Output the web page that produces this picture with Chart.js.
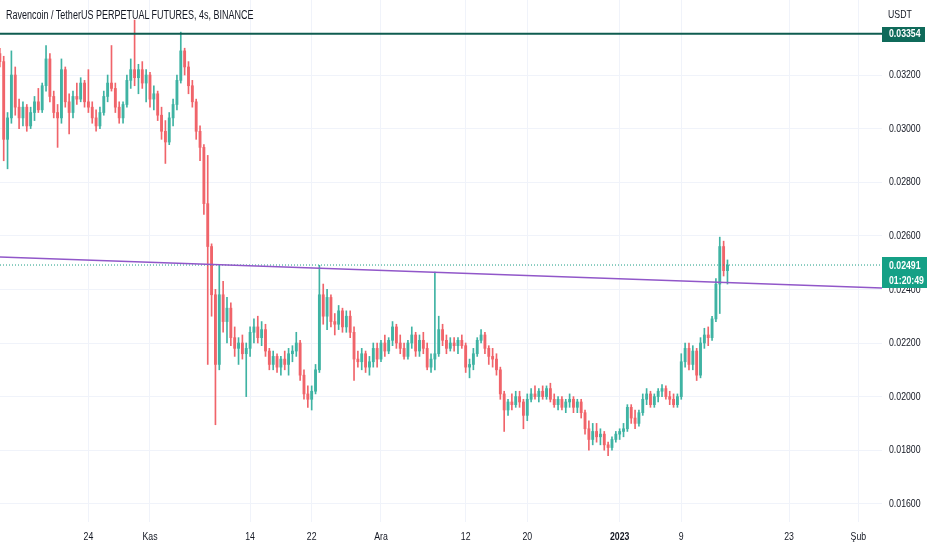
<!DOCTYPE html>
<html><head><meta charset="utf-8">
<script src="https://cdn.jsdelivr.net/npm/chart.js@4.4.1/dist/chart.umd.min.js"></script>
<style>
html,body{margin:0;padding:0;background:#fff;}
#wrap{position:relative;width:932px;height:550px;overflow:hidden;}
#title{position:absolute;left:6px;top:8px;font:12.5px "Liberation Sans",Arial,sans-serif;color:#131722;white-space:nowrap;transform:scaleX(0.72);transform-origin:0 0;}
</style></head><body>
<div id="wrap"><canvas id="c" width="932" height="550"></canvas><div id="title">Ravencoin / TetherUS PERPETUAL FUTURES, 4s, BINANCE</div></div>
<script>
// ---- data (prices in units of 0.00001 USDT), 12h candles ----
const firstCandleDay = -11.5;   // days relative to 24 Oct
const candleStepDays = 0.5;
const opens = [
3280,3250,2960,3040,3200,3080,3040,3080,3010,3060,
3100,3070,3160,3260,3120,3060,3040,3220,3100,3060,
3120,3110,3170,3100,3080,3040,3010,3060,3120,3170,
3150,3080,3040,3090,3180,3220,3190,3220,3170,3200,
3110,3130,3050,2990,2950,3040,3090,3180,3290,3230,
3160,3100,2990,2930,2720,2560,2380,2120,2380,2280,
2330,2220,2180,2200,2160,2180,2240,2260,2220,2250,
2170,2120,2150,2110,2140,2120,2160,2170,2200,2080,
2010,1990,2020,2100,2380,2300,2370,2280,2270,2320,
2260,2300,2240,2140,2130,2160,2110,2130,2180,2140,
2200,2170,2210,2260,2200,2180,2150,2200,2230,2170,
2210,2180,2110,2140,2160,2250,2210,2180,2200,2190,
2210,2190,2110,2120,2160,2210,2230,2180,2150,2140,
2100,2010,1950,1980,1970,2000,1980,1930,1990,2010,
2000,2020,2000,2030,1990,1970,1990,1960,1980,1990,
1960,1980,1940,1880,1840,1870,1850,1860,1820,1810,
1840,1860,1870,1880,1960,1920,1900,1940,1990,2010,
1970,2000,2020,2030,2000,1990,1970,2000,2130,2180,
2120,2170,2080,2200,2230,2220,2290,2420,2560,2470];
const highs = [
3300,3270,3060,3290,3230,3110,3100,3090,3080,3120,
3150,3170,3310,3280,3140,3090,3260,3230,3130,3140,
3170,3190,3180,3220,3100,3070,3080,3140,3200,3310,
3170,3100,3100,3200,3260,3405,3240,3250,3220,3210,
3160,3140,3080,3030,3060,3110,3200,3360,3300,3250,
3180,3110,3010,2940,2900,2570,2400,2490,2430,2370,
2350,2260,2220,2230,2200,2260,2290,2300,2280,2270,
2180,2170,2160,2150,2170,2180,2190,2240,2210,2100,
2040,2040,2120,2490,2420,2400,2380,2310,2340,2330,
2320,2320,2260,2170,2180,2170,2150,2200,2200,2210,
2230,2220,2280,2270,2230,2200,2210,2260,2240,2230,
2240,2200,2160,2465,2300,2270,2230,2220,2220,2220,
2230,2200,2140,2180,2220,2250,2240,2190,2180,2160,
2110,2020,1990,2010,2020,2020,1990,2010,2030,2040,
2030,2040,2040,2050,2010,2000,2000,1990,2010,2000,
1990,1990,1950,1910,1900,1900,1880,1870,1830,1850,
1870,1880,1900,1970,1970,1950,1950,2010,2030,2020,
2010,2030,2045,2040,2020,2010,2010,2160,2200,2200,
2190,2180,2220,2255,2260,2300,2440,2595,2580,2510];
const lows = [
3230,2880,2850,3020,3050,3000,3010,2990,3000,3030,
3060,3060,3140,3100,3040,2930,3020,3080,2980,3040,
3090,3100,3080,3060,3020,2990,3000,3050,3100,3140,
3060,3020,3020,3080,3150,3160,3130,3150,3100,3080,
3070,3030,2960,2870,2940,3010,3070,3170,3200,3130,
3080,2960,2880,2680,2120,2300,1895,2100,2240,2200,
2190,2150,2120,2140,2000,2150,2200,2200,2190,2150,
2100,2100,2090,2080,2100,2080,2130,2150,2060,1990,
1960,1950,2010,2090,2270,2250,2260,2230,2250,2240,
2240,2220,2060,2110,2100,2090,2080,2110,2110,2130,
2150,2160,2190,2180,2160,2140,2140,2180,2150,2150,
2160,2100,2090,2100,2150,2190,2160,2170,2170,2160,
2180,2090,2070,2100,2150,2200,2160,2120,2110,2080,
1990,1870,1930,1950,1960,1960,1880,1910,1980,1990,
1980,1990,1990,1980,1960,1950,1950,1940,1960,1940,
1940,1920,1860,1800,1820,1830,1820,1800,1780,1800,
1830,1840,1850,1870,1900,1880,1890,1930,1970,1960,
1960,1980,2000,1990,1970,1960,1960,1990,2110,2100,
2100,2060,2070,2180,2190,2210,2280,2310,2450,2420];
const closes = [
3250,2960,3040,3200,3080,3040,3080,3010,3060,3100,
3070,3160,3260,3120,3060,3040,3220,3100,3060,3120,
3110,3170,3100,3080,3040,3010,3060,3120,3170,3150,
3080,3040,3090,3180,3220,3190,3220,3170,3200,3110,
3130,3050,2990,2950,3040,3090,3180,3290,3230,3160,
3100,2990,2930,2720,2560,2380,2120,2380,2280,2330,
2220,2180,2200,2160,2180,2240,2260,2220,2250,2170,
2120,2150,2110,2140,2120,2160,2170,2200,2080,2010,
1990,2020,2100,2380,2300,2370,2280,2270,2320,2260,
2300,2240,2140,2130,2160,2110,2130,2180,2140,2200,
2170,2210,2260,2200,2180,2150,2200,2230,2170,2210,
2180,2110,2140,2160,2250,2210,2180,2200,2190,2210,
2190,2110,2120,2160,2210,2230,2180,2150,2140,2100,
2010,1950,1980,1970,2000,1980,1930,1990,2010,2000,
2020,2000,2030,1990,1970,1990,1960,1980,1990,1960,
1980,1940,1880,1840,1870,1850,1860,1820,1810,1840,
1860,1870,1880,1960,1920,1900,1940,1990,2010,1970,
2000,2020,2030,2000,1990,1970,2000,2130,2180,2120,
2170,2080,2200,2230,2220,2290,2420,2560,2470,2491];
const PRICE_UNIT = 100000;

const xTickDays   = [0, 8, 21, 29, 38, 49, 57, 69, 77, 91, 100];
const xTickLabels = ['24','Kas','14','22','Ara','12','20','2023','9','23','Şub'];
const yTickValues = [0.016,0.018,0.020,0.022,0.024,0.026,0.028,0.030,0.032];

const resistanceLevel = 0.03354;
const lastPrice = 0.02491;
const countdown = '01:20:49';
const trendStartDay = -11.48, trendStartPrice = 0.02521;
const trendEndDay = 103.07,  trendEndPrice = 0.02405;

const X_MIN = -11.48, X_MAX = 103.07;
const Y_MIN = 0.015321, Y_MAX = 0.034799;

// ---- styling ----
const FONT = '"Liberation Sans",Arial,sans-serif';
const SX = 0.76;   // horizontal condensing of axis text
const UP = '#3fb3a3', DOWN = '#f0646a';
const TEXT = '#131722', GRID = '#f0f3fa';

const wickData = [], bodyData = [], colors = [];
for (let i = 0; i < closes.length; i++) {
  const x = firstCandleDay + i * candleStepDays;
  wickData.push({x, y: [lows[i] / PRICE_UNIT, highs[i] / PRICE_UNIT]});
  bodyData.push({x, y: [opens[i] / PRICE_UNIT, closes[i] / PRICE_UNIT]});
  colors.push(closes[i] >= opens[i] ? UP : DOWN);
}

function narrowText(ctx, text, x, y, align) {
  ctx.save();
  ctx.translate(x, y);
  ctx.scale(SX, 1);
  ctx.textAlign = align;
  ctx.textBaseline = 'middle';
  ctx.fillText(text, 0, 0);
  ctx.restore();
}

const axisTextPlugin = {
  id: 'axisText',
  afterDraw(chart) {
    const ctx = chart.ctx, xs = chart.scales.x, ys = chart.scales.y, area = chart.chartArea;
    ctx.save();
    ctx.fillStyle = TEXT;
    // x tick labels from the library's x scale ticks
    xs.ticks.forEach((t, i) => {
      const lbl = xTickLabels[i];
      ctx.font = (lbl === '2023' ? 'bold ' : '') + '11.5px ' + FONT;
      narrowText(ctx, lbl, xs.getPixelForValue(t.value), area.bottom + 15, 'center');
    });
    // y tick labels from the library's y scale ticks
    ctx.font = '11.5px ' + FONT;
    ys.ticks.forEach(t => {
      narrowText(ctx, Number(t.value).toFixed(5), area.right + 7, ys.getPixelForValue(t.value), 'left');
    });
    narrowText(ctx, 'USDT', area.right + 6, 15, 'left');
    // resistance badge
    let y = ys.getPixelForValue(resistanceLevel);
    ctx.fillStyle = '#0f6a5a';
    ctx.fillRect(area.right, Math.round(y) - 7, 43, 15);
    ctx.fillStyle = '#ffffff';
    ctx.font = 'bold 11.5px ' + FONT;
    narrowText(ctx, resistanceLevel.toFixed(5), area.right + 7, y + 0.5, 'left');
    // last price badge
    y = ys.getPixelForValue(lastPrice);
    ctx.fillStyle = '#15a086';
    ctx.fillRect(area.right, Math.round(y) - 8, 45, 31);
    ctx.fillStyle = '#ffffff';
    narrowText(ctx, lastPrice.toFixed(5), area.right + 7, y + 0.5, 'left');
    narrowText(ctx, countdown, area.right + 7, y + 16, 'left');
    ctx.restore();
  }
};

new Chart(document.getElementById('c'), {
  type: 'bar',
  data: {
    datasets: [
      {type: 'line', data: [{x: X_MIN, y: resistanceLevel}, {x: X_MAX, y: resistanceLevel}],
       borderColor: '#0f5c50', borderWidth: 2, pointRadius: 0, order: 0},
      {type: 'line', data: [{x: trendStartDay, y: trendStartPrice}, {x: trendEndDay, y: trendEndPrice}],
       borderColor: '#9157c9', borderWidth: 1.5, pointRadius: 0, order: 0},
      {type: 'line', data: [{x: X_MIN, y: lastPrice}, {x: X_MAX, y: lastPrice}],
       borderColor: '#1a9c84', borderWidth: 1, borderDash: [1, 2], pointRadius: 0, order: 0},
      {type: 'bar', data: bodyData, backgroundColor: colors, barThickness: 2.2, minBarLength: 1,
       grouped: false, order: 1},
      {type: 'bar', data: wickData, backgroundColor: colors, barThickness: 1,
       grouped: false, order: 2}
    ]
  },
  options: {
    responsive: false,
    animation: false,
    events: [],
    layout: {padding: 0, autoPadding: false},
    plugins: {legend: {display: false}, tooltip: {enabled: false}, title: {display: false}},
    scales: {
      x: {
        type: 'linear', min: X_MIN, max: X_MAX, offset: false,
        grid: {color: GRID, drawTicks: false, offset: false},
        border: {display: false},
        afterBuildTicks: s => { s.ticks = xTickDays.map(v => ({value: v})); },
        afterFit: s => { s.height = 28; },
        ticks: {display: false, autoSkip: false, maxRotation: 0,
                callback: (v, i) => xTickLabels[i]}
      },
      y: {
        type: 'linear', position: 'right', min: Y_MIN, max: Y_MAX,
        grid: {color: GRID, drawTicks: false},
        border: {display: false},
        afterBuildTicks: s => { s.ticks = yTickValues.map(v => ({value: v})); },
        afterFit: s => { s.width = 50; },
        ticks: {display: false, callback: v => Number(v).toFixed(5)}
      }
    }
  },
  plugins: [axisTextPlugin]
});
</script>
</body></html>
